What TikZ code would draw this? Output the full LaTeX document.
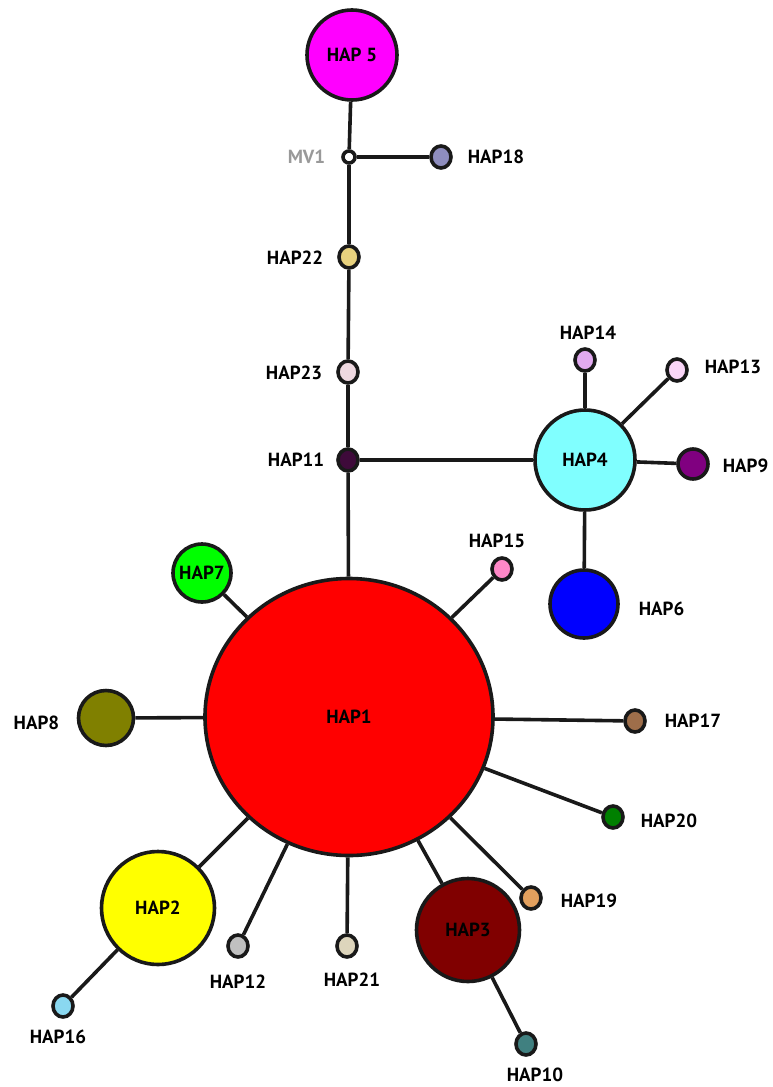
\documentclass[tikz,border=0pt]{standalone}
\usepackage{fontspec}
\setmainfont{PT Sans}
\usetikzlibrary{shapes.geometric}
\definecolor{hapA}{HTML}{8E8DBE}
\definecolor{hapB}{HTML}{E8D27E}
\definecolor{hapC}{HTML}{EED8E0}
\definecolor{hapD}{HTML}{3E0A3A}
\definecolor{hapE}{HTML}{E2AAF0}
\definecolor{hapF}{HTML}{FAD6F8}
\definecolor{hapG}{HTML}{FF88C8}
\definecolor{hapH}{HTML}{9E6E4A}
\definecolor{hapI}{HTML}{8AD8F0}
\definecolor{hapJ}{HTML}{DDD5BC}
\definecolor{hapK}{HTML}{E2A05E}
\definecolor{hapL}{HTML}{408080}
\definecolor{hapM}{HTML}{008000}
\definecolor{hapN}{HTML}{80FFFF}
\definecolor{hapO}{HTML}{800000}
\definecolor{hapP}{HTML}{800080}
\definecolor{hapQ}{HTML}{808000}
\definecolor{hapR}{HTML}{FF0000}
\definecolor{hapS}{HTML}{FF00FF}
\definecolor{hapT}{HTML}{00FF00}
\definecolor{hapU}{HTML}{0000FF}
\definecolor{hapV}{HTML}{FFFF00}
\definecolor{hapW}{HTML}{C0C0C0}

\begin{document}
\begin{tikzpicture}[x=1pt,y=-1pt,line width=3.6pt,font=\bfseries\fontsize{19}{19}\selectfont,
  hap/.style={circle,draw=black!90,inner sep=0pt,minimum size=#1},
  haps/.style={ellipse,draw=black!90,inner sep=0pt,minimum width=20pt,minimum height=22pt,fill=#1},
  hlab/.style={inner sep=0pt}]
\useasboundingbox (0,0) rectangle (772,1087);
% big haplotypes
\node[hap=90pt,fill=hapS] (h5) at (352,55) {HAP 5};
\node[ellipse,draw=black!90,inner sep=0pt,minimum width=288pt,minimum height=277pt,fill=hapR] (h1) at (349,717) {HAP1};
\node[hap=100pt,fill=hapN] (h4) at (585,460) {HAP4};
\node[hap=68pt,fill=hapU] (h6) at (584,604) {};
\node[hap=58pt,fill=hapT] (h7) at (202,573) {HAP7};
\node[hap=55pt,fill=hapQ] (h8) at (106,718) {};
\node[hap=113pt,fill=hapV] (h2) at (158,908) {HAP2};
\node[hap=103pt,fill=hapO] (h3) at (468,930) {HAP3};
\node[hap=30pt,fill=hapP] (h9) at (693,464) {};
% small haplotypes
\node[circle,draw=black!90,inner sep=0pt,minimum size=12pt,fill=white] (mv1) at (349,157) {};
\node[haps=hapA] (h18) at (441,157) {};
\node[haps=hapB] (h22) at (349,257) {};
\node[haps=hapC] (h23) at (348,372) {};
\node[haps=hapD] (h11) at (348,460) {};
\node[haps=hapE] (h14) at (585,360) {};
\node[haps=hapF] (h13) at (677,370) {};
\node[haps=hapG] (h15) at (502,569) {};
\node[haps=hapH] (h17) at (635,721) {};
\node[haps=hapM] (h20) at (613,817) {};
\node[haps=hapK] (h19) at (531,898) {};
\node[haps=hapL] (h10) at (526,1044) {};
\node[haps=hapJ] (h21) at (347,946) {};
\node[haps=hapW] (h12) at (238,946) {};
\node[haps=hapI] (h16) at (63,1006) {};
% connectors
\draw[black!90] (h5) -- (mv1);
\draw[black!90] (mv1) -- (h18);
\draw[black!90] (mv1) -- (h22);
\draw[black!90] (h22) -- (h23);
\draw[black!90] (h23) -- (h11);
\draw[black!90] (h11) -- (h4);
\draw[black!90] (h11) -- (h1);
\draw[black!90] (h4) -- (h14);
\draw[black!90] (h4) -- (h13);
\draw[black!90] (h4) -- (h9);
\draw[black!90] (h4) -- (h6);
\draw[black!90] (h1) -- (h7);
\draw[black!90] (h1) -- (h8);
\draw[black!90] (h1) -- (h15);
\draw[black!90] (h1) -- (h17);
\draw[black!90] (h1) -- (h20);
\draw[black!90] (h1) -- (h19);
\draw[black!90] (h1) -- (h3);
\draw[black!90] (h1) -- (h21);
\draw[black!90] (h1) -- (h12);
\draw[black!90] (h1) -- (h2);
\draw[black!90] (h2) -- (h16);
\draw[black!90] (h3) -- (h10);
% labels
\node[hlab,text=black!40,anchor=east] (tmv1) at (327,157) {MV1};
\node[hlab,anchor=west] (t18) at (466,157) {HAP18};
\node[hlab,anchor=east] (t22) at (325,258) {HAP22};
\node[hlab,anchor=east] (t23) at (324,373) {HAP23};
\node[hlab,anchor=east] (t11) at (326,460) {HAP11};
\node[hlab] (t14) at (588,333) {HAP14};
\node[hlab,anchor=west] (t13) at (703,367) {HAP13};
\node[hlab,anchor=west] (t9) at (721,466) {HAP9};
\node[hlab,anchor=west] (t6) at (637,609) {HAP6};
\node[hlab] (t15) at (497,541) {HAP15};
\node[hlab,anchor=west] (t17) at (663,721) {HAP17};
\node[hlab,anchor=west] (t20) at (639,821) {HAP20};
\node[hlab,anchor=west] (t19) at (559,901) {HAP19};
\node[hlab] (t10) at (535,1075) {HAP10};
\node[hlab] (t21) at (352,980) {HAP21};
\node[hlab] (t12) at (238,982) {HAP12};
\node[hlab] (t16) at (58,1037) {HAP16};
\node[hlab,anchor=east] (t8) at (61,723) {HAP8};
\end{tikzpicture}
\end{document}
